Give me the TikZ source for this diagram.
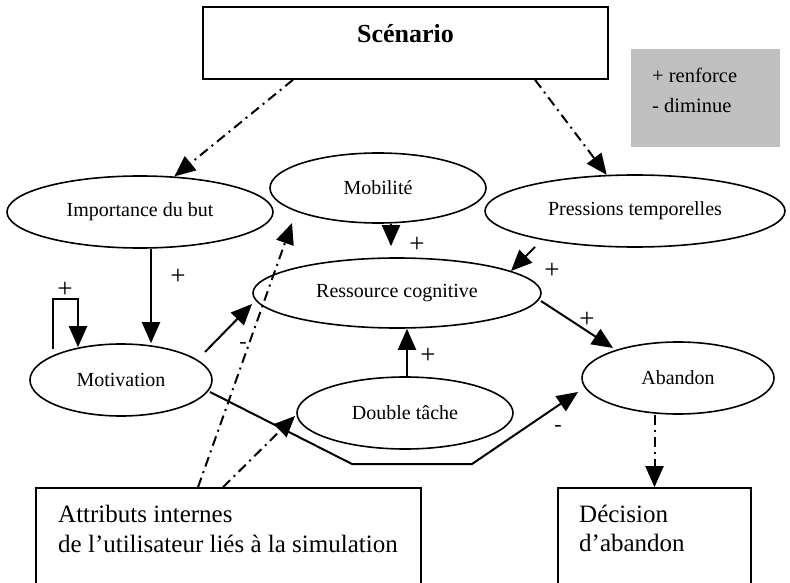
\documentclass[tikz,border=0pt]{standalone}
\usepackage{fontspec}
\setmainfont{Liberation Serif}
\usetikzlibrary{arrows.meta,shapes.geometric}
\definecolor{legendgray}{RGB}{192,192,192}
\tikzset{
  ell/.style={draw, ellipse, line width=1.6pt, inner sep=0pt,
    font=\fontsize{20}{24}\selectfont},
  boxnode/.style={draw, rectangle, line width=1.6pt, inner sep=0pt},
  link/.style={line width=2pt, -{Triangle[length=21pt,width=18pt]}},
  infl/.style={link, dash pattern=on 10pt off 5pt on 2pt off 5pt},
  sign/.style={inner sep=0pt, font=\fontsize{27}{30}\selectfont},
  minus/.style={inner sep=0pt, font=\fontsize{22}{24}\selectfont},
  boxtext/.style={anchor=base west, inner sep=0pt, font=\fontsize{25}{30}\selectfont},
  legtext/.style={anchor=base west, inner sep=0pt, font=\fontsize{20.5}{24}\selectfont},
}
\begin{document}
\begin{tikzpicture}[x=1pt,y=-1pt]
\useasboundingbox (0,0) rectangle (790,583);

% scenario box and legend
\node[boxnode, minimum width=405, minimum height=72, text height=17, text depth=17,
  font=\bfseries\fontsize{26}{30}\selectfont] (scen) at (405.5,43) {Scénario};
\node[fill=legendgray, minimum width=149, minimum height=98, inner sep=0pt] (legend) at (705.5,98) {};
\node[legtext] (legA) at (652,83) {+ renforce};
\node[legtext] (legB) at (652,113) {- diminue};

% factors
\node[ell, minimum width=266, minimum height=72] (imp) at (140,212) {Importance du but};
\node[ell, minimum width=216, minimum height=70] (mob) at (378,188) {Mobilité};
\node[ell, minimum width=300, minimum height=72] (pre) at (635,211) {Pressions temporelles};
\node[ell, minimum width=288, minimum height=70] (res) at (397,293) {Ressource cognitive};
\node[ell, minimum width=182, minimum height=72] (mot) at (121,380) {Motivation};
\node[ell, minimum width=216, minimum height=72] (dt) at (405,413) {Double tâche};
\node[ell, minimum width=192, minimum height=72] (ab) at (678,378) {Abandon};

% bottom boxes
\node[boxnode, minimum width=385, minimum height=107] (attr) at (228.5,541.5) {};
\node[boxtext] (attrA) at (58,522) {Attributs internes};
\node[boxtext] (attrB) at (58,552) {de l’utilisateur liés à la simulation};
\node[boxnode, minimum width=193, minimum height=107] (dec) at (654.5,541.5) {};
\node[boxtext] (decA) at (579,522) {Décision};
\node[boxtext] (decB) at (579,551) {d’abandon};

% scenario influences
\draw[infl] ([shift={(-112.5,0)}]scen.south) -- (imp.46);
\draw[infl] ([shift={(129.5,0)}]scen.south) -- (pre.128);

% goal importance and motivation
\draw[link] ([shift={(11,0)}]imp.south) -- ([shift={(30,0)}]mot.north);
\node[sign] (p1) at (178,277) {+};
\draw[link] ([shift={(-68,6)}]mot.north) -- ++(0,-50) -- ++(25,0)
  -- ([shift={(-43,4)}]mot.north);
\node[sign] (p2) at (65,290) {+};

% motivation effects
\draw[link] ([shift={(84,-28)}]mot.center) -- ([shift={(-145,11)}]res.center);
\draw[link] ([shift={(89,12)}]mot.center) -- (352,464) -- (472,464)
  -- ([shift={(-100,14)}]ab.center);
\node[minus] (m2) at (558,428) {-};

% user attributes
\draw[infl] ([shift={(-30.5,0)}]attr.north) -- ([shift={(-86,35)}]mob.center);
\node[minus] (m1) at (243,345) {-};
\draw[infl] ([shift={(-5.5,0)}]attr.north) -- ([shift={(-110,3)}]dt.center);

% cognitive resource
\draw[link] ([shift={(13,0)}]mob.south) -- ([shift={(-6,-11)}]res.north);
\node[sign] (p3) at (417,245) {+};
\draw[link] ([shift={(-100,36)}]pre.center) -- ([shift={(114,-22)}]res.center);
\node[sign] (p4) at (552,271) {+};
\draw[link] ([shift={(2,0)}]dt.north) -- ([shift={(10,0)}]res.south);
\node[sign] (p5) at (428,356) {+};
\draw[link] ([shift={(144,8)}]res.center) -- ([shift={(-65,-30)}]ab.center);
\node[sign] (p6) at (587,320) {+};

% decision
\draw[infl] ([shift={(-23.5,0)}]ab.south) -- (dec.north);
\end{tikzpicture}
\end{document}
